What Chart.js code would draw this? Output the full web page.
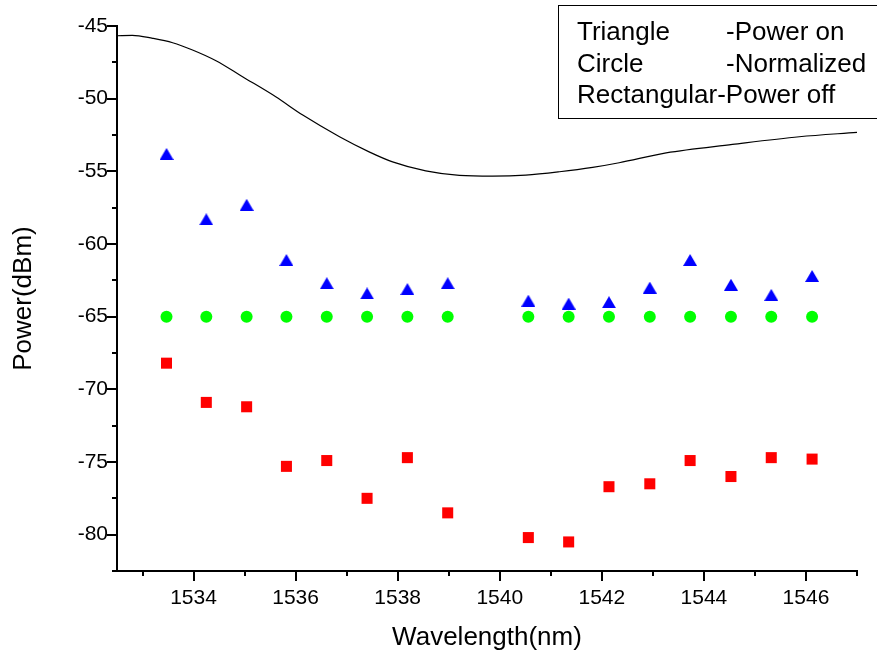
<!DOCTYPE html>
<html>
<head>
<meta charset="utf-8">
<script src="https://cdn.jsdelivr.net/npm/chart.js@4/dist/chart.umd.min.js"></script>
<style>
  html, body { margin: 0; padding: 0; background: #fff; }
  #wrap { width: 877px; height: 657px; position: relative; }
</style>
</head>
<body>
<div id="wrap"><canvas id="c" width="877" height="657"></canvas></div>
<script>
// ---- data ----
const wavelengths = [1533.47, 1534.25, 1535.04, 1535.82, 1536.61, 1537.40, 1538.19, 1538.98,
                     1540.56, 1541.35, 1542.14, 1542.94, 1543.73, 1544.53, 1545.32, 1546.12];
const powerOn  = [-53.8, -58.3, -57.3, -61.1, -62.7, -63.4, -63.1, -62.7,
                  -63.9, -64.1, -64.0, -63.0, -61.1, -62.8, -63.5, -62.2];
const normalized = [-65, -65, -65, -65, -65, -65, -65, -65,
                    -65, -65, -65, -65, -65, -65, -65, -65];
const powerOff = [-68.2, -70.9, -71.2, -75.3, -74.9, -77.5, -74.7, -78.5,
                  -80.2, -80.5, -76.7, -76.5, -74.9, -76.0, -74.7, -74.8];
const curveX = [1532.5, 1532.8, 1533.2, 1533.59, 1533.98, 1534.44, 1534.96, 1535.61, 1536.14,
                1536.86, 1537.44, 1537.9, 1538.55, 1539.21, 1539.86, 1540.51, 1541.17,
                1541.82, 1542.34, 1543.26, 1544.56, 1545.87, 1547.0];
const curveY = [-45.67, -45.64, -45.85, -46.15, -46.65, -47.39, -48.49, -49.87, -51.13,
                -52.62, -53.66, -54.35, -54.97, -55.28, -55.33, -55.26, -55.03,
                -54.73, -54.41, -53.73, -53.15, -52.62, -52.32];
const xMajorTicks = [1534, 1536, 1538, 1540, 1542, 1544, 1546];
const yMajorTicks = [-80, -75, -70, -65, -60, -55, -50, -45];
const legendLines = [["Triangle", "-Power on"], ["Circle", "-Normalized"], ["Rectangular-Power off", ""]];

const FONT = "'Liberation Sans', Arial, sans-serif";

// triangle marker (bounding box centred on the value)
const tri = document.createElement('canvas');
tri.width = 14; tri.height = 12;
(function () {
  const c = tri.getContext('2d');
  c.fillStyle = '#0000ff';
  c.beginPath(); c.moveTo(7, 0); c.lineTo(14, 12); c.lineTo(0, 12); c.closePath(); c.fill();
})();

const toPts = (xs, ys) => xs.map((x, i) => ({ x: x, y: ys[i] }));

const tickPlugin = {
  id: 'ticksAndLegend',
  afterDraw(chart) {
    const ctx = chart.ctx;
    const xs = chart.scales.x, ys = chart.scales.y;
    const ca = chart.chartArea;
    ctx.save();
    ctx.strokeStyle = '#000';
    ctx.lineWidth = 2;
    ctx.beginPath();
    for (let v = 1533; v <= 1547; v++) {
      const px = Math.round(xs.getPixelForValue(v));
      const len = xMajorTicks.includes(v) ? 10 : 5;
      ctx.moveTo(px, ca.bottom); ctx.lineTo(px, ca.bottom + len);
    }
    for (let v = -82.5; v <= -45; v += 2.5) {
      const py = Math.round(ys.getPixelForValue(v));
      const len = yMajorTicks.includes(v) ? 10 : 5;
      ctx.moveTo(ca.left, py); ctx.lineTo(ca.left - len, py);
    }
    ctx.stroke();

    // legend box
    ctx.lineWidth = 1;
    ctx.strokeStyle = '#000';
    ctx.strokeRect(558.5, 5.5, 340, 113);
    ctx.fillStyle = '#000';
    ctx.font = '26px ' + FONT;
    ctx.textBaseline = 'alphabetic';
    const baseY = [40, 71.5, 103];
    legendLines.forEach((ln, i) => {
      ctx.fillText(ln[0], 577, baseY[i]);
      if (ln[1]) ctx.fillText(ln[1], 726, baseY[i]);
    });
    ctx.restore();
  }
};

new Chart(document.getElementById('c'), {
  type: 'scatter',
  data: {
    datasets: [
      { label: 'curve', type: 'line', data: toPts(curveX, curveY), borderColor: '#000',
        borderWidth: 1.2, pointRadius: 0, fill: false, cubicInterpolationMode: 'monotone' },
      { label: 'Triangle', data: toPts(wavelengths, powerOn), pointStyle: tri, pointRadius: 7,
        backgroundColor: '#0000ff', borderWidth: 0 },
      { label: 'Circle', data: toPts(wavelengths, normalized), pointStyle: 'circle', pointRadius: 6,
        backgroundColor: '#00ff00', borderWidth: 0 },
      { label: 'Rectangular', data: toPts(wavelengths, powerOff), pointStyle: 'rect', pointRadius: 7.8,
        backgroundColor: '#ff0000', borderWidth: 0 }
    ]
  },
  options: {
    responsive: false,
    animation: false,
    events: [],
    layout: { padding: { top: 26, right: 20, left: 0, bottom: 0 } },
    plugins: { legend: { display: false }, tooltip: { enabled: false } },
    scales: {
      x: {
        type: 'linear', min: 1532.5, max: 1547,
        grid: { display: false, drawTicks: false },
        border: { display: true, color: '#000', width: 2 },
        afterBuildTicks: (s) => { s.ticks = xMajorTicks.map(v => ({ value: v })); },
        afterFit: (s) => { s.height = 86; },
        ticks: { autoSkip: false, maxRotation: 0, padding: 15, color: '#000',
                 font: { family: FONT, size: 21 }, callback: (v) => String(v) },
        title: { display: true, text: 'Wavelength(nm)', color: '#000',
                 font: { family: FONT, size: 26, lineHeight: 1.2 }, padding: { top: 0, bottom: 4 } }
      },
      y: {
        type: 'linear', min: -82.5, max: -45,
        grid: { display: false, drawTicks: false },
        border: { display: true, color: '#000', width: 2 },
        afterBuildTicks: (s) => { s.ticks = yMajorTicks.map(v => ({ value: v })); },
        afterFit: (s) => { s.width = 117; },
        ticks: { autoSkip: false, padding: 9, color: '#000',
                 font: { family: FONT, size: 21 }, callback: (v) => String(v) },
        title: { display: true, text: 'Power(dBm)', color: '#000',
                 font: { family: FONT, size: 26, lineHeight: 1.2 }, padding: { top: 8, bottom: 0 } }
      }
    }
  },
  plugins: [tickPlugin]
});
</script>
</body>
</html>
